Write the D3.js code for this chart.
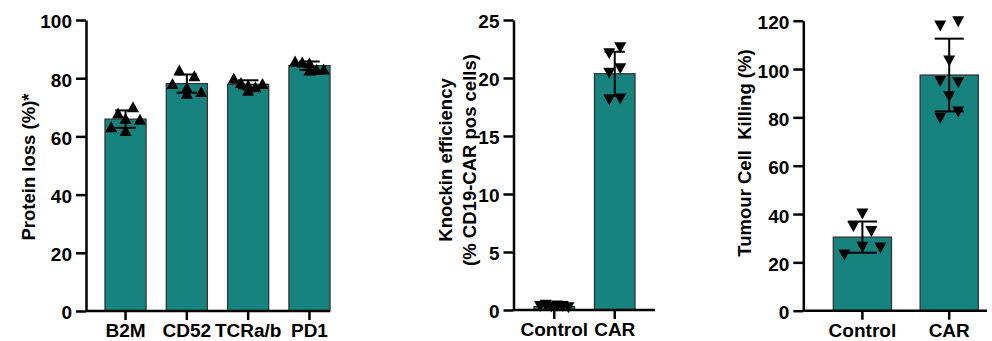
<!DOCTYPE html>
<html>
<head>
<meta charset="utf-8">
<script src="https://cdn.jsdelivr.net/npm/d3@7"></script>
<style>
  body { margin: 0; background: #fff; }
  svg text { font-family: "Liberation Sans", Arial, sans-serif; font-weight: bold; fill: #000; }
</style>
</head>
<body>
<div id="chart"></div>
<script>
// ---- data ----
const lossCategories = ['B2M', 'CD52', 'TCRa/b', 'PD1']
const lossValues = [
    [68.0, 70.2, 63.3, 66.2, 65.9, 62.0],
    [82.8, 80.8, 78.2, 76.9, 75.4, 74.8],
    [80.0, 78.5, 77.7, 77.1, 78.2, 75.9],
    [85.9, 85.6, 85.3, 83.0, 83.2, 82.8]
]
const lossTicks = [0, 20, 40, 60, 80, 100]

const knockinCategories = ['Control', 'CAR']
const knockinValues = [
    [0.30, 0.40, 0.25, 0.35, 0.30, 0.20],
    [22.1, 22.6, 20.4, 20.8, 18.1, 18.2]
]
const knockinTicks = [0, 5, 10, 15, 20, 25]

const killingCategories = ['Control', 'CAR']
const killingValues = [
    [40.0, 34.7, 32.8, 23.0, 26.3, 25.9],
    [117.8, 119.6, 103.3, 94.8, 94.3, 88.5, 79.6, 82.2]
]
const killingTicks = [0, 20, 40, 60, 80, 100, 120]

// ---- layout ----
const W = 992, H = 341
const barFill = '#16837f'
const fontSize = '19px'

const panels = [
    {
        cats: lossCategories, vals: lossValues, ticks: lossTicks,
        title: ['Protein loss (%)*'], titleX: [35], titleY: 167,
        axisX: [86, 330], bandX: [105, 330], yRange: [311, 20],
        step: 15, marker: 'up'
    },
    {
        cats: knockinCategories, vals: knockinValues, ticks: knockinTicks,
        title: ['Knockin efficiency', '(% CD19-CAR pos cells)'], titleX: [451.5, 476], titleY: 160,
        axisX: [513.5, 655], bandX: [534, 635], yRange: [310, 20],
        step: 11, marker: 'down'
    },
    {
        cats: killingCategories, vals: killingValues, ticks: killingTicks,
        title: ['Tumour Cell  Killing (%)'], titleX: [750.5], titleY: 153,
        axisX: [803.3, 987], bandX: [833.3, 978.3], yRange: [310.7, 20.7],
        step: 18, marker: 'down'
    }
]

const svg = d3.select('#chart').append('svg')
    .attr('width', W)
    .attr('height', H)

// triangle centred on its bounding box
const tri = (dir, w, h) => dir === 'up'
    ? `M0,${-h / 2}L${w / 2},${h / 2}L${-w / 2},${h / 2}Z`
    : `M0,${h / 2}L${w / 2},${-h / 2}L${-w / 2},${-h / 2}Z`

// GraphPad-like scatter: group close values into rows, centre each row
function spread(vals, y, step, maxW) {
    const idx = vals.map((v, i) => i).sort((a, b) => vals[b] - vals[a])
    const off = new Array(vals.length).fill(0)
    let row = []
    const flush = () => {
        row.sort((a, b) => a - b)
        const n = row.length
        const sp = n > 1 ? Math.min(step, maxW / (n - 1)) : 0
        row.forEach((k, j) => { off[k] = (j - (n - 1) / 2) * sp })
        row = []
    }
    idx.forEach(i => {
        if (row.length && Math.abs(y(vals[i]) - y(vals[row[0]])) > 9) flush()
        row.push(i)
    })
    if (row.length) flush()
    return off
}

panels.forEach(p => {
    const y = d3.scaleLinear()
        .domain([0, d3.max(p.ticks)])
        .range(p.yRange)

    const x = d3.scaleBand()
        .domain(p.cats)
        .range(p.bandX)
        .paddingInner(0.33)
        .paddingOuter(0)

    const g = svg.append('g')
    const bw = x.bandwidth()

    const stats = p.cats.map((c, i) => ({
        cat: c,
        vals: p.vals[i],
        mean: d3.mean(p.vals[i]),
        sd: d3.deviation(p.vals[i])
    }))

    // bars
    g.selectAll('.bar')
        .data(stats)
        .enter().append('rect')
        .attr('class', 'bar')
        .attr('x', d => x(d.cat))
        .attr('y', d => y(d.mean))
        .attr('width', bw)
        .attr('height', d => y(0) - y(d.mean))
        .attr('fill', barFill)
        .attr('stroke', '#333')
        .attr('stroke-width', 1.3)

    // points
    stats.forEach(d => {
        const cx = x(d.cat) + bw / 2
        const off = spread(d.vals, y, p.step, bw * 0.7)
        g.selectAll(null)
            .data(d.vals)
            .enter().append('path')
            .attr('d', tri(p.marker, 12, 11))
            .attr('transform', (v, i) => `translate(${cx + off[i]},${y(v)})`)
            .attr('fill', '#000')
    })

    // error bars (mean ± SD)
    const eb = g.selectAll('.err')
        .data(stats)
        .enter().append('g')
        .attr('class', 'err')
        .attr('stroke', '#000')
        .attr('stroke-width', 2)
    eb.append('line')
        .attr('x1', d => x(d.cat) + bw / 2)
        .attr('x2', d => x(d.cat) + bw / 2)
        .attr('y1', d => y(d.mean - d.sd))
        .attr('y2', d => y(d.mean + d.sd))
    ;[-1, 1].forEach(s => {
        eb.append('line')
            .attr('x1', d => x(d.cat) + bw / 4)
            .attr('x2', d => x(d.cat) + bw * 3 / 4)
            .attr('y1', d => y(d.mean + s * d.sd))
            .attr('y2', d => y(d.mean + s * d.sd))
    })

    // y axis
    const yAxis = g.append('g')
        .attr('transform', `translate(${p.axisX[0]},0)`)
        .call(d3.axisLeft(y).tickValues(p.ticks).tickSize(10).tickSizeOuter(0).tickPadding(4))
    yAxis.selectAll('path, line').attr('stroke', '#000').attr('stroke-width', 2.5)
    yAxis.selectAll('text')
        .attr('dy', '0.42em')
        .style('font-size', fontSize)

    // x axis
    const xAxis = g.append('g')
        .attr('transform', `translate(0,${p.yRange[0]})`)
        .call(d3.axisBottom(x).tickSize(9).tickPadding(4))
    xAxis.select('.domain').remove()
    xAxis.selectAll('line').attr('stroke', '#000').attr('stroke-width', 2.5)
    xAxis.selectAll('text').style('font-size', fontSize)
    xAxis.append('line')
        .attr('x1', p.axisX[0])
        .attr('x2', p.axisX[1])
        .attr('stroke', '#000')
        .attr('stroke-width', 2.5)

    // axis title
    p.title.forEach((t, i) => {
        g.append('text')
            .attr('transform', `translate(${p.titleX[i]},${p.titleY}) rotate(-90)`)
            .attr('text-anchor', 'middle')
            .style('font-size', '18.5px')
            .style('white-space', 'pre')
            .text(t)
    })
})
</script>
</body>
</html>
